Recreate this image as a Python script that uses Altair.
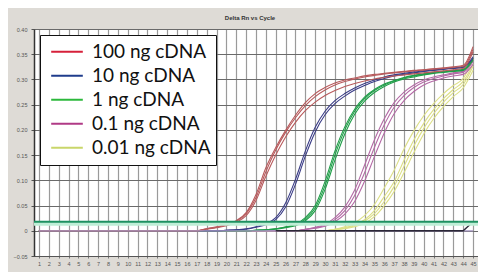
import altair as alt
import pandas as pd

cycles = list(range(1, 46))

groups = ["100 ng cDNA", "10 ng cDNA", "1 ng cDNA", "0.1 ng cDNA", "0.01 ng cDNA"]
legend_colors = ["#d6203a", "#1f3c8c", "#2cb83c", "#b03a86", "#c9d66a"]
curve_colors = ["#b85a5c", "#3a3c86", "#1f9e48", "#b46aa6", "#dcdf86"]

# replicate amplification curves (Delta Rn per cycle, cycles 1..45)
red_a = [0.0] * 17 + [0.004, 0.008, 0.013, 0.020, 0.036, 0.072, 0.125, 0.165, 0.199, 0.229, 0.254, 0.272, 0.284, 0.293, 0.299, 0.303, 0.307, 0.310, 0.312, 0.314, 0.316, 0.318, 0.319, 0.321, 0.322, 0.324, 0.326, 0.360]
red_b = [0.0] * 17 + [0.003, 0.006, 0.010, 0.017, 0.030, 0.060, 0.108, 0.150, 0.186, 0.215, 0.238, 0.255, 0.268, 0.278, 0.286, 0.292, 0.297, 0.301, 0.304, 0.307, 0.309, 0.311, 0.313, 0.315, 0.317, 0.319, 0.322, 0.355]
red_c = [0.0] * 17 + [0.004, 0.007, 0.012, 0.019, 0.034, 0.066, 0.117, 0.160, 0.195, 0.224, 0.248, 0.266, 0.279, 0.289, 0.296, 0.301, 0.305, 0.308, 0.311, 0.313, 0.315, 0.317, 0.319, 0.321, 0.323, 0.325, 0.328, 0.365]
blue_a = [0.0] * 19 + [0.001, 0.002, 0.004, 0.008, 0.014, 0.026, 0.055, 0.102, 0.158, 0.205, 0.237, 0.258, 0.272, 0.283, 0.292, 0.299, 0.305, 0.309, 0.312, 0.315, 0.317, 0.319, 0.321, 0.323, 0.325, 0.345]
blue_b = [0.0] * 19 + [0.001, 0.002, 0.003, 0.007, 0.012, 0.022, 0.047, 0.092, 0.148, 0.196, 0.230, 0.252, 0.267, 0.279, 0.288, 0.296, 0.302, 0.307, 0.310, 0.313, 0.316, 0.318, 0.320, 0.322, 0.324, 0.342]
green_a = [0.0] * 22 + [0.001, 0.002, 0.004, 0.007, 0.012, 0.023, 0.045, 0.090, 0.150, 0.200, 0.237, 0.262, 0.278, 0.289, 0.297, 0.303, 0.307, 0.310, 0.313, 0.315, 0.317, 0.319, 0.340]
green_b = [0.0] * 22 + [0.001, 0.002, 0.003, 0.006, 0.010, 0.020, 0.040, 0.082, 0.140, 0.192, 0.231, 0.257, 0.274, 0.286, 0.295, 0.301, 0.305, 0.309, 0.312, 0.314, 0.316, 0.318, 0.338]
green_c = [0.0] * 22 + [0.001, 0.002, 0.004, 0.008, 0.013, 0.026, 0.050, 0.098, 0.158, 0.206, 0.241, 0.265, 0.280, 0.291, 0.298, 0.304, 0.308, 0.311, 0.314, 0.316, 0.318, 0.320, 0.342]
pink_a = [0.0] * 27 + [0.003, 0.006, 0.011, 0.022, 0.040, 0.070, 0.115, 0.165, 0.210, 0.245, 0.268, 0.284, 0.295, 0.302, 0.307, 0.311, 0.314, 0.335]
pink_b = [0.0] * 27 + [0.002, 0.005, 0.009, 0.018, 0.033, 0.058, 0.098, 0.147, 0.194, 0.232, 0.258, 0.276, 0.289, 0.297, 0.303, 0.307, 0.310, 0.330]
pink_c = [0.0] * 27 + [0.003, 0.007, 0.013, 0.026, 0.047, 0.081, 0.130, 0.180, 0.222, 0.254, 0.275, 0.289, 0.299, 0.305, 0.309, 0.313, 0.316, 0.338]
yellow_a = [0.0] * 30 + [0.003, 0.006, 0.012, 0.022, 0.040, 0.068, 0.097, 0.140, 0.180, 0.213, 0.240, 0.262, 0.280, 0.296, 0.330]
yellow_b = [0.0] * 30 + [0.002, 0.004, 0.008, 0.015, 0.028, 0.050, 0.078, 0.115, 0.155, 0.192, 0.222, 0.246, 0.266, 0.283, 0.318]
yellow_c = [0.0] * 30 + [0.003, 0.008, 0.016, 0.030, 0.052, 0.085, 0.120, 0.162, 0.198, 0.228, 0.252, 0.272, 0.288, 0.302, 0.340]
yellow_d = [0.0] * 30 + [0.002, 0.005, 0.010, 0.019, 0.034, 0.058, 0.088, 0.128, 0.168, 0.203, 0.232, 0.255, 0.274, 0.290, 0.326]

baseline_cycles = cycles
baseline_values = [0.0] * 45
ntc_cycles = list(range(25, 46))
ntc_values = [0.0] * 20 + [0.018]
threshold = 0.018

y_ticks = [-0.05, 0.0, 0.05, 0.10, 0.15, 0.20, 0.25, 0.30, 0.35, 0.40]

curves = [
    ("y_a", groups[4], yellow_a), ("y_b", groups[4], yellow_b), ("y_c", groups[4], yellow_c), ("y_d", groups[4], yellow_d),
    ("p_a", groups[3], pink_a), ("p_b", groups[3], pink_b), ("p_c", groups[3], pink_c),
    ("g_a", groups[2], green_a), ("g_b", groups[2], green_b), ("g_c", groups[2], green_c),
    ("b_a", groups[1], blue_a), ("b_b", groups[1], blue_b),
    ("r_a", groups[0], red_a), ("r_b", groups[0], red_b), ("r_c", groups[0], red_c),
]
rows = []
for i, (name, grp, vals) in enumerate(curves):
    for c, v in zip(cycles, vals):
        rows.append({"cycle": c, "value": v, "curve": name, "group": grp, "k": i})
df = pd.DataFrame(rows)

x_scale = alt.Scale(domain=[0.5, 45.5], nice=False, zero=False)
y_scale = alt.Scale(domain=[-0.05, 0.40], nice=False, zero=False)

x_axis = alt.Axis(values=cycles, title=None, labelFontSize=5.5, labelColor="#555555", grid=True,
                  gridColor="#9a9a9a", gridWidth=1.2, tickSize=2, tickColor="#777777",
                  domainColor="#555555", labelPadding=3, labelFlush=False, labelOverlap=False)
y_axis = alt.Axis(values=y_ticks, title=None, labelFontSize=5.5, labelColor="#555555", grid=True,
                  gridColor="#6a6a6a", gridWidth=1, tickSize=3, tickColor="#555555",
                  domainColor="#333333", domainWidth=1.5, labelPadding=4, labelOverlap=False,
                  labelExpr="datum.value == 0 ? '0' : format(datum.value, '.2f')")

base_x = alt.X("cycle:Q", scale=x_scale, axis=x_axis)
base_y = alt.Y("value:Q", scale=y_scale, axis=y_axis)

curve_layer = alt.Chart(df).mark_line(strokeWidth=1.1, clip=True, interpolate="monotone").encode(
    x=base_x, y=base_y,
    color=alt.Color("group:N", scale=alt.Scale(domain=groups, range=curve_colors), legend=None),
    detail="curve:N",
    order="k:Q",
)

base_df = pd.DataFrame({"cycle": baseline_cycles, "value": baseline_values})
baseline_layer = alt.Chart(base_df).mark_line(strokeWidth=1.2, color="#a596c2", clip=True).encode(
    x=alt.X("cycle:Q", scale=x_scale, axis=x_axis), y=alt.Y("value:Q", scale=y_scale, axis=y_axis))

ntc_df = pd.DataFrame({"cycle": ntc_cycles, "value": ntc_values})
ntc_layer = alt.Chart(ntc_df).mark_line(strokeWidth=1.4, color="#2c2838", clip=True).encode(
    x=alt.X("cycle:Q", scale=x_scale, axis=x_axis), y=alt.Y("value:Q", scale=y_scale, axis=y_axis))

thr_df = pd.DataFrame({"t": [threshold]})
thr_glow = alt.Chart(thr_df).mark_rule(color="#bfeed6", strokeWidth=4, yOffset=2).encode(
    y=alt.Y("t:Q", scale=y_scale, axis=y_axis))
thr_layer = alt.Chart(thr_df).mark_rule(color="#1e9060", strokeWidth=2).encode(
    y=alt.Y("t:Q", scale=y_scale, axis=y_axis))

leg_df = pd.DataFrame({"label": groups, "cycle": [1] * 5, "value": [-1.0] * 5})
legend_layer = alt.Chart(leg_df).mark_line(clip=True).encode(
    x=alt.X("cycle:Q", scale=x_scale, axis=x_axis), y=alt.Y("value:Q", scale=y_scale, axis=y_axis),
    stroke=alt.Stroke("label:N", scale=alt.Scale(domain=groups, range=legend_colors),
                      legend=alt.Legend(title=None, orient="none", legendX=6, legendY=6,
                                        symbolType="stroke", symbolSize=1000, symbolStrokeWidth=2,
                                        symbolOffset=5, clipHeight=23.5,
                                        labelFont="Lato", labelFontSize=19, labelColor="#111111",
                                        labelExpr="datum.label + '       '",
                                        labelOffset=8, padding=5, rowPadding=0,
                                        fillColor="white", strokeColor="#111111")),
)

chart = alt.layer(curve_layer, baseline_layer, ntc_layer, thr_glow, thr_layer, legend_layer).resolve_scale(
    color="independent", stroke="independent"
).properties(
    width=444, height=227,
    padding={"left": 26, "top": 21, "right": 0, "bottom": 16},
    autosize=alt.AutoSizeParams(type="none"),
    background="#dedbd6",
    title=alt.Title("Delta Rn vs Cycle", fontSize=6, fontWeight="bold", color="#333333",
                    anchor="middle", offset=6, dx=-6),
).configure_view(fill="white", stroke="#999999").configure_axis(labelOverlap=False, labelBound=False)

chart.save("out.html", embed_options={"renderer": "svg", "actions": False})
